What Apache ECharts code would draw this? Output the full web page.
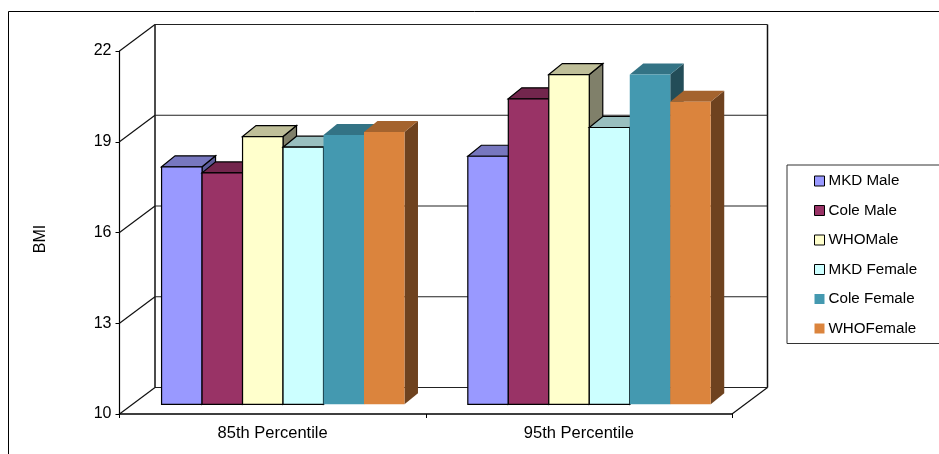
<!DOCTYPE html>
<html>
<head>
<meta charset="utf-8">
<style>html,body{margin:0;padding:0;background:#fff}#c{width:939px;height:454px}</style>
<script src="https://cdn.jsdelivr.net/npm/echarts@6/dist/echarts.min.js"></script>
</head>
<body>
<div id="c"></div>
<script>
var categories = ['85th Percentile', '95th Percentile'];
var yTicks = [10, 13, 16, 19, 22];
var mkdMale = [17.85, 18.2];
var coleMale = [17.65, 20.1];
var whoMale = [18.85, 20.9];
var mkdFemale = [18.5, 19.15];
var coleFemale = [18.9, 20.9];
var whoFemale = [19.0, 20.0];
var seriesNames = ['MKD Male', 'Cole Male', 'WHOMale', 'MKD Female', 'Cole Female', 'WHOFemale'];
var seriesValues = [mkdMale, coleMale, whoMale, mkdFemale, coleFemale, whoFemale];
var front = ['#9999FF', '#993366', '#FFFFCC', '#CCFFFF', '#4499B0', '#DB843D'];
var top_ = ['#7777BF', '#73264D', '#BFBF99', '#99BFBF', '#337385', '#A4632E'];
var side = ['#5C5C99', '#4D1A33', '#80806A', '#668080', '#234D58', '#6E421F'];
var bordered = [true, true, true, true, false, false];

var wallDx = 35.5, wallDy = 26.5;     // depth of the back wall
var barDx = 13.5, barDy = 11;         // depth of each bar
var baseDx = 10.4, baseDy = 9.7;      // offset of the bars' front plane

var chart = echarts.init(document.getElementById('c'), null, {renderer: 'canvas'});

function frameItem(params, api) {
  var v = api.value(0);
  var p = api.coord([0, v]);
  var xL = 119.5, xR = 732;
  var y = p[1];
  var kids = [
    {type: 'line', shape: {x1: xL, y1: y, x2: xL + wallDx, y2: y - wallDy}, style: {stroke: '#111', lineWidth: 1.2}},
    {type: 'line', shape: {x1: xL + wallDx, y1: y - wallDy, x2: xR + wallDx, y2: y - wallDy}, style: {stroke: '#222', lineWidth: 1.2}}
  ];
  if (params.dataIndex === 0) {
    kids.push({type: 'line', shape: {x1: xR, y1: y, x2: xR + wallDx, y2: y - wallDy}, style: {stroke: '#111', lineWidth: 1.2}});
    var t = api.coord([0, yTicks[yTicks.length - 1]]);
    kids.push({type: 'line', shape: {x1: xL + wallDx, y1: y - wallDy, x2: xL + wallDx, y2: t[1] - wallDy}, style: {stroke: '#111', lineWidth: 1.5}});
    kids.push({type: 'line', shape: {x1: xR + wallDx, y1: y - wallDy, x2: xR + wallDx, y2: t[1] - wallDy}, style: {stroke: '#111', lineWidth: 1.5}});
  }
  return {type: 'group', children: kids};
}

function barItem(s) {
  return function (params, api) {
    var cat = api.value(0);
    var val = api.coord([cat, api.value(1)]);
    var base = api.coord([cat, yTicks[0]]);
    var band = api.size([1, 0])[0];
    var w = band * 0.1322;
    var x0 = val[0] + baseDx - 3 * w + s * w;
    var x1 = x0 + w;
    var yT = val[1] - baseDy;
    var yB = base[1] - baseDy;
    var stroke = bordered[s] ? '#000' : null;
    var lw = bordered[s] ? 1.2 : 0;
    return {type: 'group', children: [
      {type: 'polygon', shape: {points: [[x1, yT], [x1 + barDx, yT - barDy], [x1 + barDx, yB - barDy], [x1, yB]]}, style: {fill: side[s], stroke: stroke, lineWidth: lw}},
      {type: 'polygon', shape: {points: [[x0, yT], [x0 + barDx, yT - barDy], [x1 + barDx, yT - barDy], [x1, yT]]}, style: {fill: top_[s], stroke: stroke, lineWidth: lw}},
      {type: 'rect', shape: {x: x0, y: yT, width: w, height: yB - yT}, style: {fill: front[s], stroke: stroke, lineWidth: lw}}
    ]};
  };
}

var series = [{
  type: 'custom', name: 'frame', silent: true, z: 1,
  data: yTicks.map(function (v) { return [v]; }),
  encode: {y: 0}, renderItem: frameItem
}];
seriesNames.forEach(function (n, s) {
  series.push({
    type: 'custom', name: n, z: 2 + s,
    itemStyle: {color: front[s]},
    data: seriesValues[s].map(function (v, i) { return [i, v]; }),
    encode: {x: 0, y: 1},
    renderItem: barItem(s)
  });
});

chart.setOption({
  animation: false,
  backgroundColor: '#fff',
  textStyle: {fontFamily: '"Liberation Sans", Arial, sans-serif', color: '#000'},
  grid: {left: 119.5, top: 51, width: 612.5, height: 363},
  xAxis: {
    type: 'category', data: categories,
    axisLine: {show: true, lineStyle: {color: '#000', width: 1.5}},
    axisTick: {show: true, length: 4, lineStyle: {color: '#000'}},
    axisLabel: {color: '#000', fontSize: 16.5, margin: 11, fontFamily: '"Liberation Sans", Arial, sans-serif'},
    splitLine: {show: false}, z: 20
  },
  yAxis: {
    type: 'value', min: 10, max: 22, interval: 3,
    axisLine: {show: true, lineStyle: {color: '#000', width: 1.2}},
    axisTick: {show: true, length: 4, lineStyle: {color: '#000'}},
    axisLabel: {color: '#000', fontSize: 16, margin: 8, padding: [2, 0, 0, 0], fontFamily: '"Liberation Sans", Arial, sans-serif'},
    splitLine: {show: false}
  },
  legend: {
    left: 787, top: 165, orient: 'vertical',
    padding: [8.5, 200, 7.5, 27],
    itemWidth: 10, itemHeight: 10, itemGap: 14.5,
    borderColor: '#333', borderWidth: 1,
    selectedMode: false,
    textStyle: {color: '#000', fontSize: 15.2, padding: [0, 0, 0, -1], fontFamily: '"Liberation Sans", Arial, sans-serif'},
    data: seriesNames.map(function (n, s) {
      return {name: n, icon: 'rect', itemStyle: {color: front[s], borderColor: bordered[s] ? '#000' : front[s], borderWidth: bordered[s] ? 1 : 0}};
    })
  },
  graphic: [
    {type: 'rect', shape: {x: 8.5, y: 11.5, width: 1000, height: 1000}, style: {fill: 'none', stroke: '#000', lineWidth: 1}, silent: true, z: 0},
    {type: 'text', x: 41, y: 239, rotation: Math.PI / 2, style: {text: 'BMI', fill: '#000', fontSize: 16, fontFamily: '"Liberation Sans", Arial, sans-serif', textAlign: 'center', textVerticalAlign: 'middle'}, silent: true}
  ],
  series: series
});
</script>
</body>
</html>
